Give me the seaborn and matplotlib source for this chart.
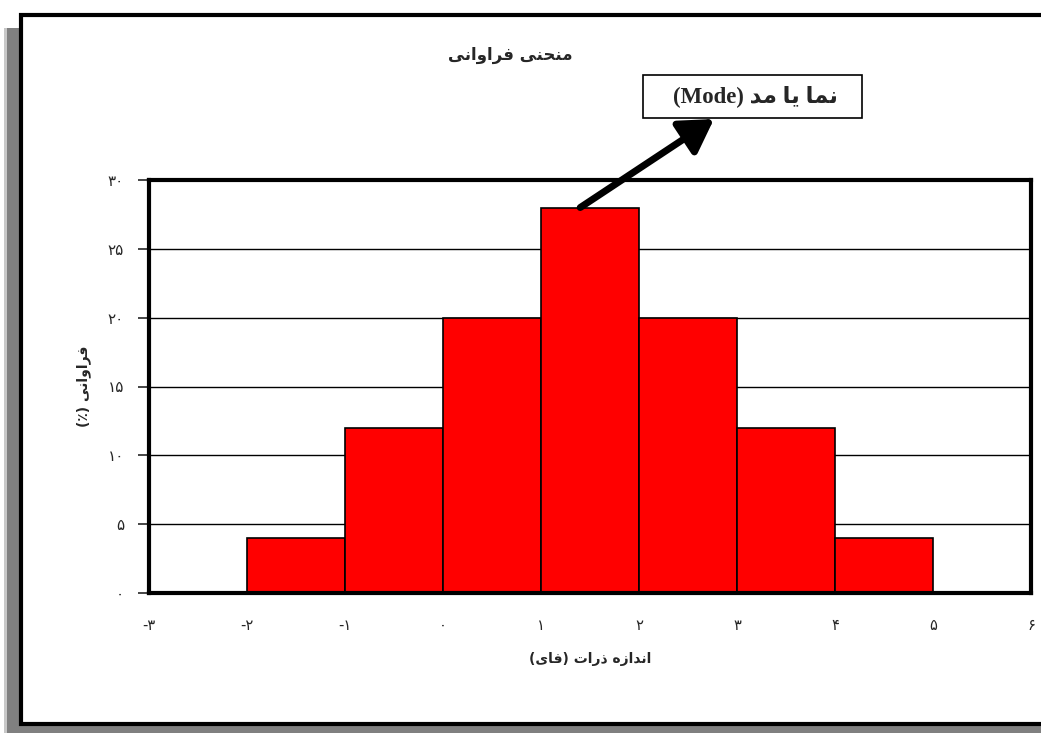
import numpy as np
import seaborn as sns
import matplotlib.pyplot as plt
from matplotlib.patches import Rectangle

# histogram data (phi classes and frequency %)
phi_edges = [-2, -1, 0, 1, 2, 3, 4, 5]
freq_pct = [4, 12, 20, 28, 20, 12, 4]
x_ticks = [-3, -2, -1, 0, 1, 2, 3, 4, 5, 6]
x_tick_labels = ["-۳", "-۲", "-۱", "۰", "۱", "۲", "۳", "۴", "۵", "۶"]
y_ticks = [0, 5, 10, 15, 20, 25, 30]
y_tick_labels = ["۰", "۵", "۱۰", "۱۵", "۲۰", "۲۵", "۳۰"]
mode_phi = 1.4

title_text = "منحنی فراوانی"
ylabel_text = "فراوانی"
xlabel_main = "اندازه ذرات"
xlabel_unit = "فای"
mode_text = "نما یا مد"

# presentation forms: isolated, final, initial, medial
FORMS = {
    "ا": ("\uFE8D", "\uFE8E", None, None),
    "د": ("\uFEA9", "\uFEAA", None, None),
    "ذ": ("\uFEAB", "\uFEAC", None, None),
    "ر": ("\uFEAD", "\uFEAE", None, None),
    "ز": ("\uFEAF", "\uFEB0", None, None),
    "و": ("\uFEED", "\uFEEE", None, None),
    "ت": ("\uFE95", "\uFE96", "\uFE97", "\uFE98"),
    "ح": ("\uFEA1", "\uFEA2", "\uFEA3", "\uFEA4"),
    "ف": ("\uFED1", "\uFED2", "\uFED3", "\uFED4"),
    "م": ("\uFEE1", "\uFEE2", "\uFEE3", "\uFEE4"),
    "ن": ("\uFEE5", "\uFEE6", "\uFEE7", "\uFEE8"),
    "ه": ("\uFEE9", "\uFEEA", "\uFEEB", "\uFEEC"),
    "ی": ("\uFBFC", "\uFBFD", "\uFBFE", "\uFBFF"),
}


def rtl(text):
    out = []
    for i, c in enumerate(text):
        if c not in FORMS:
            out.append(c)
            continue
        prev = text[i - 1] if i > 0 else None
        nxt = text[i + 1] if i + 1 < len(text) else None
        join_prev = prev in FORMS and FORMS[prev][2] is not None
        join_next = nxt in FORMS and FORMS[c][2] is not None
        iso, fin, ini, med = FORMS[c]
        if join_prev and join_next:
            out.append(med)
        elif join_prev:
            out.append(fin)
        elif join_next:
            out.append(ini)
        else:
            out.append(iso)
    return "".join(reversed(out))


sns.set_style("white")
plt.rcParams["font.family"] = ["DejaVu Sans"]

W, H = 1041, 733
fig = plt.figure(figsize=(W / 100, H / 100), dpi=100)
fig.patch.set_facecolor("white")

# page frame with grey shadow
fig.add_artist(Rectangle((4 / W, -0.05), 1.2, (H - 28) / H + 0.05,
                         transform=fig.transFigure, fc="#808080", ec="none", zorder=-10))
fig.add_artist(Rectangle((4 / W, -0.05), 3 / W, (H - 28) / H + 0.05,
                         transform=fig.transFigure, fc="#c8c8c8", ec="none", zorder=-9))
fig.add_artist(Rectangle((21 / W, 1 - 724 / H), 1.2, (724 - 15) / H,
                         transform=fig.transFigure, fc="white", ec="black", lw=3, zorder=-8))

ax = fig.add_axes([149 / W, 1 - 593 / H, 882 / W, 413 / H])

centers = (np.array(phi_edges[:-1]) + np.array(phi_edges[1:])) / 2
sns.histplot(x=centers, weights=freq_pct, bins=phi_edges, color="#ff0000",
             edgecolor="black", linewidth=1.2, alpha=1, ax=ax, zorder=2)

ax.set_xlim(-3, 6)
ax.set_ylim(0, 30)
ax.set_xticks(x_ticks, x_tick_labels)
ax.set_yticks(y_ticks, y_tick_labels)
ax.tick_params(axis="x", length=0, pad=18, labelsize=10.5)
ax.tick_params(axis="y", length=8, width=1.2, pad=10, labelsize=11, left=True)
ax.yaxis.grid(True, color="black", lw=1)
ax.set_axisbelow(True)
for s in ax.spines.values():
    s.set_visible(True)
    s.set_color("black")
    s.set_linewidth(3)

ax.set_ylabel("(٪) " + rtl(ylabel_text), fontsize=10, weight="bold", labelpad=12)
ax.set_xlabel("(" + rtl(xlabel_unit) + ") " + rtl(xlabel_main), fontsize=10,
              weight="bold", labelpad=14)

fig.text(510 / W, 1 - 55 / H, rtl(title_text), ha="center", va="center",
         fontsize=12, weight="bold")

# mode box and arrow
fig.add_artist(Rectangle((643 / W, 1 - 118 / H), 219 / W, 43 / H,
                         transform=fig.transFigure, fc="white", ec="black", lw=1.2, zorder=5))
fig.text(755 / W, 1 - 96 / H, "(Mode) " + rtl(mode_text), ha="center", va="center",
         fontsize=16.5, weight="bold", family=["Liberation Serif", "DejaVu Sans"], zorder=6)
ax.annotate("", xy=(714 / W, 1 - 119 / H), xycoords="figure fraction",
            xytext=(mode_phi, freq_pct[3]), textcoords="data",
            arrowprops=dict(arrowstyle="-|>,head_length=1.0,head_width=0.6",
                            lw=5, color="black", mutation_scale=20,
                            shrinkA=0, shrinkB=0))

fig.savefig("out.png", dpi=100)
